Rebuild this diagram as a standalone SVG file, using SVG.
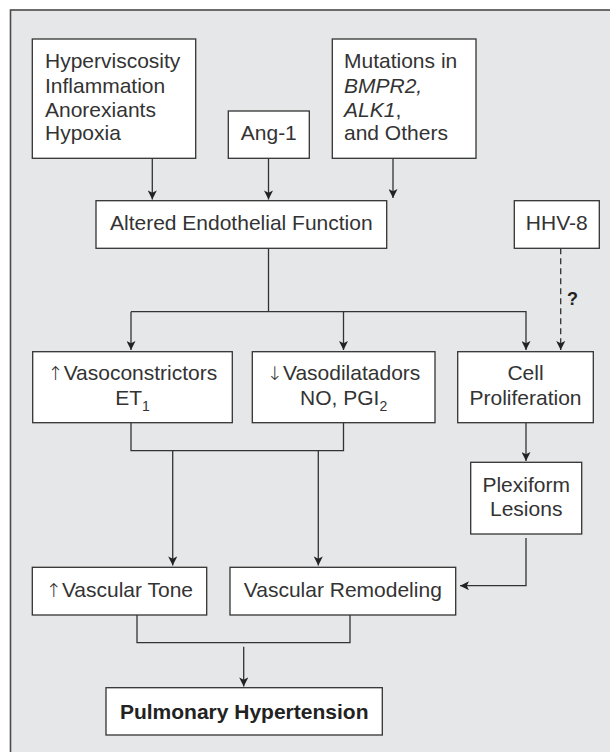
<svg xmlns="http://www.w3.org/2000/svg" width="610" height="752" viewBox="0 0 610 752">
  <defs>
    <style>
      .frame { fill: #e6e7e8; stroke: #4a4a4a; stroke-width: 1.6; }
      .box { fill: #ffffff; stroke: #333333; stroke-width: 1.3; }
      .t { font-family: "Liberation Sans", Arial, Helvetica, sans-serif; font-size: 21px; fill: #333333; }
      .c { text-anchor: middle; }
      .b { font-weight: bold; fill: #222222; }
      .i { font-style: italic; }
      .sub { font-size: 14px; }
      .sym { font-family: "DejaVu Sans", sans-serif; font-weight: 200; font-size: 19px; fill: #333333; }
      .conn { fill: none; stroke: #333333; stroke-width: 1.3; }
      .arr { marker-end: url(#ah); }
      .dash { stroke-dasharray: 6 4; }
    </style>
    <marker id="ah" viewBox="0 0 10 10" refX="10" refY="5" markerWidth="10" markerHeight="9" markerUnits="userSpaceOnUse" orient="auto">
      <path d="M0,0 L10,5 L0,10 L2.5,5 z" fill="#222222"/>
    </marker>
  </defs>

  <rect width="610" height="752" fill="#ffffff"/>
  <rect class="frame" x="10.5" y="10" width="640" height="780"/>

  <g id="connectors">
    <path class="conn arr" d="M152.3,158.3 V199.5"/>
    <path class="conn arr" d="M268.5,158.3 V199.5"/>
    <path class="conn arr" d="M393,158.3 V198"/>
    <path class="conn" d="M268.5,248.3 V311.7"/>
    <path class="conn arr" d="M131,311.7 V350"/>
    <path class="conn arr" d="M131,311.7 H526 V350"/>
    <path class="conn arr" d="M343.5,311.7 V350"/>
    <path class="conn arr dash" d="M560.7,248.3 V350"/>
    <path class="conn" d="M131,422.7 V450.7 H343.5 V422.7"/>
    <path class="conn arr" d="M172.7,450.7 V565.5"/>
    <path class="conn arr" d="M318.3,450.7 V565.5"/>
    <path class="conn arr" d="M526,422.7 V461"/>
    <path class="conn arr" d="M526,538 V585.7 H460"/>
    <path class="conn" d="M137,615 V642.7 H350 V615"/>
    <path class="conn arr" d="M243.7,646.7 V686.5"/>
    <text class="t b" x="567" y="304.5" style="font-size:18px">?</text>
  </g>

  <g id="causes">
    <rect class="box" x="32.3" y="39" width="163.4" height="119.3"/>
    <text class="t" x="45" y="68">Hyperviscosity</text>
    <text class="t" x="45" y="93">Inflammation</text>
    <text class="t" x="45" y="117">Anorexiants</text>
    <text class="t" x="45" y="140">Hypoxia</text>
  </g>

  <g id="ang1">
    <rect class="box" x="228.3" y="111" width="81" height="47.3"/>
    <text class="t c" x="268.8" y="140">Ang-1</text>
  </g>

  <g id="mutations">
    <rect class="box" x="332.3" y="39" width="143.7" height="119.3"/>
    <text class="t" x="344" y="68">Mutations in</text>
    <text class="t i" x="344" y="93">BMPR2,</text>
    <text class="t" x="344" y="117"><tspan class="i">ALK1</tspan>,</text>
    <text class="t" x="344" y="140">and Others</text>
  </g>

  <g id="altered">
    <rect class="box" x="96" y="200.7" width="290.7" height="47.6"/>
    <text class="t c" x="241.3" y="230">Altered Endothelial Function</text>
  </g>

  <g id="hhv8">
    <rect class="box" x="514.3" y="200.7" width="85" height="47.6"/>
    <text class="t c" x="556.8" y="230">HHV-8</text>
  </g>

  <g id="vasoconstrictors">
    <rect class="box" x="32.7" y="351.7" width="199.6" height="71"/>
    <text class="t c" x="132.5" y="379.5"><tspan class="sym">↑</tspan>Vasoconstrictors</text>
    <text class="t c" x="132.5" y="405">ET<tspan class="sub" dy="6">1</tspan></text>
  </g>

  <g id="vasodilatadors">
    <rect class="box" x="252.3" y="351.7" width="182.7" height="71"/>
    <text class="t c" x="343.7" y="379.5"><tspan class="sym">↓</tspan>Vasodilatadors</text>
    <text class="t c" x="343.7" y="405">NO, PGI<tspan class="sub" dy="6">2</tspan></text>
  </g>

  <g id="cell">
    <rect class="box" x="457.7" y="351.7" width="135.6" height="71"/>
    <text class="t c" x="525.5" y="380">Cell</text>
    <text class="t c" x="525.5" y="405">Proliferation</text>
  </g>

  <g id="plexiform">
    <rect class="box" x="470.7" y="462.3" width="111" height="71.7"/>
    <text class="t c" x="526.2" y="491.7">Plexiform</text>
    <text class="t c" x="526.2" y="515.7">Lesions</text>
  </g>

  <g id="tone">
    <rect class="box" x="32.3" y="567.3" width="174.4" height="47.7"/>
    <text class="t c" x="119.5" y="596.7"><tspan class="sym">↑</tspan>Vascular Tone</text>
  </g>

  <g id="remodeling">
    <rect class="box" x="230" y="567.3" width="225.7" height="47.7"/>
    <text class="t c" x="342.8" y="596.7">Vascular Remodeling</text>
  </g>

  <g id="ph">
    <rect class="box" x="106" y="687.7" width="276.3" height="47.3"/>
    <text class="t c b" x="244.2" y="718.5">Pulmonary Hypertension</text>
  </g>
</svg>
